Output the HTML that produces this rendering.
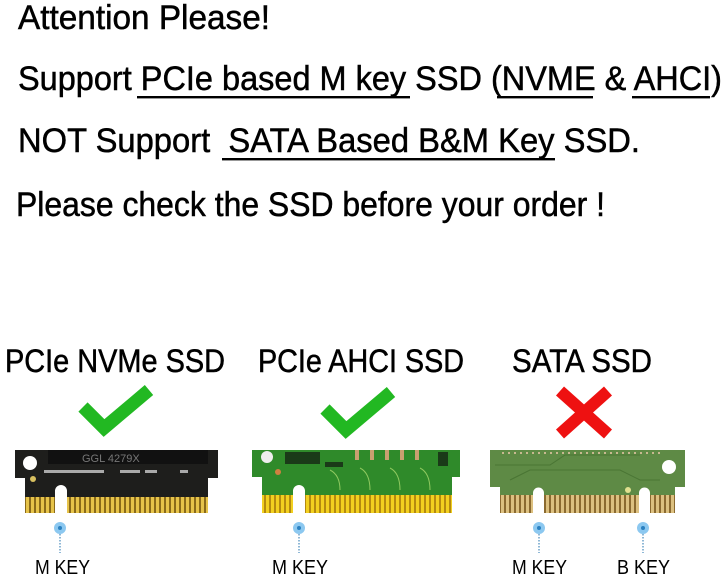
<!DOCTYPE html>
<html><head><meta charset="utf-8"><style>
html,body{margin:0;padding:0;background:#fff;width:724px;height:580px;overflow:hidden}
svg{display:block}
text{font-family:"Liberation Sans",Arial,sans-serif;fill:#000}
</style></head><body>
<svg width="724" height="580" viewBox="0 0 724 580" xmlns="http://www.w3.org/2000/svg">
<defs>
<pattern id="gold" x="0" y="0" width="5" height="20" patternUnits="userSpaceOnUse">
<rect width="5" height="20" fill="#8a6a1a"/><rect x="1" width="3" height="20" fill="#e6c34a"/>
</pattern>
<pattern id="gold2" x="0" y="0" width="5" height="20" patternUnits="userSpaceOnUse">
<rect width="5" height="20" fill="#b48a10"/><rect x="1" width="3" height="20" fill="#f2d020"/>
</pattern>
<pattern id="gold3" x="0" y="0" width="5" height="20" patternUnits="userSpaceOnUse">
<rect width="5" height="20" fill="#8b6a30"/><rect x="1" width="3" height="20" fill="#dcc080"/>
</pattern>
</defs>
<g stroke="#000" stroke-width="0.5">
<text x="18" y="29" font-size="34" textLength="252" lengthAdjust="spacingAndGlyphs">Attention Please!</text>
<text x="18" y="90" font-size="34" textLength="704" lengthAdjust="spacingAndGlyphs">Support PCIe based M key SSD (NVME &amp; AHCI)</text>
<text x="18" y="152" font-size="34" textLength="622" lengthAdjust="spacingAndGlyphs" xml:space="preserve">NOT Support  SATA Based B&amp;M Key SSD.</text>
<text x="16" y="216" font-size="34" textLength="589" lengthAdjust="spacingAndGlyphs">Please check the SSD before your order !</text>
<text x="5" y="372" font-size="32" textLength="220" lengthAdjust="spacingAndGlyphs">PCIe NVMe SSD</text>
<text x="258" y="372" font-size="32" textLength="206" lengthAdjust="spacingAndGlyphs">PCIe AHCI SSD</text>
<text x="512" y="372" font-size="32" textLength="140" lengthAdjust="spacingAndGlyphs">SATA SSD</text>
</g>
<rect x="137" y="96" width="273" height="2.4" fill="#000"/>
<rect x="497" y="96" width="96" height="2.4" fill="#000"/>
<rect x="632" y="96" width="78" height="2.4" fill="#000"/>
<rect x="222" y="158" width="333" height="2.4" fill="#000"/>
<!-- checks -->
<polyline points="83,407 104,428 149,390" fill="none" stroke="#22b822" stroke-width="13"/>
<polyline points="325,409 346,430 391,392" fill="none" stroke="#22b822" stroke-width="13"/>
<path d="M560,391 L608,434 M608,391 L560,434" stroke="#ee1111" stroke-width="12"/>
<!-- card 1 -->
<path d="M15,450 H218 V478 H208 V513 H67 V491 A6,6 0 0 0 55,491 V513 H25 V478 H15 Z" fill="#1e1e1c"/>
<rect x="25" y="497" width="30" height="16" fill="url(#gold)"/>
<rect x="67" y="497" width="141" height="16" fill="url(#gold)"/>
<circle cx="30" cy="463" r="7" fill="#fff"/>
<circle cx="33" cy="479" r="3" fill="#d8c060"/>
<rect x="48" y="450" width="160" height="14" fill="#111"/>
<text x="82" y="462" font-size="11" style="fill:#777">GGL 4279X</text>
<g fill="#aaa"><rect x="44" y="470" width="60" height="3"/><rect x="120" y="470" width="20" height="3"/><rect x="145" y="470" width="12" height="3"/><rect x="180" y="470" width="8" height="3"/></g>
<!-- card 2 -->
<path d="M252,450 H460 V477 H452 V513 H305 V491 A6,6 0 0 0 293,491 V513 H262 V477 H252 Z" fill="#2f8a2a"/>
<rect x="262" y="495" width="31" height="18" fill="url(#gold2)"/>
<rect x="305" y="495" width="147" height="18" fill="url(#gold2)"/>
<circle cx="267" cy="457" r="6" fill="#eee"/>
<circle cx="278" cy="472" r="3" fill="#d08040"/>
<g fill="#1a3a18"><rect x="285" y="452" width="35" height="12"/><rect x="325" y="462" width="18" height="5"/><rect x="438" y="452" width="10" height="14"/></g>
<g fill="#c9a070"><rect x="355" y="450" width="4" height="10"/><rect x="370" y="450" width="4" height="10"/><rect x="385" y="450" width="4" height="10"/><rect x="400" y="450" width="4" height="10"/><rect x="415" y="450" width="4" height="10"/></g>
<g fill="none" stroke="#8fc860" stroke-width="1"><path d="M330,470 q10,5 10,20 M360,468 q10,5 10,22 M390,468 q10,5 10,22 M420,468 q10,5 10,22"/></g>
<!-- card 3 -->
<path d="M490,450 H685 V487 H675 V513 H650 V493 A5.5,5.5 0 0 0 639,493 V513 H544 V493 A5.5,5.5 0 0 0 533,493 V513 H500 V487 H490 Z" fill="#5e8a45"/>
<rect x="500" y="495" width="33" height="18" fill="url(#gold3)"/>
<rect x="544" y="495" width="95" height="18" fill="url(#gold3)"/>
<rect x="650" y="495" width="25" height="18" fill="url(#gold3)"/>
<circle cx="669" cy="467" r="7" fill="#fff"/>
<circle cx="628" cy="490" r="3" fill="#e0e090"/>
<g stroke="#c8b890" stroke-width="2" stroke-dasharray="2,4"><line x1="502" y1="453" x2="660" y2="453"/></g>
<g fill="none" stroke="#4a7534" stroke-width="1"><path d="M495,465 H550 L565,455 H640 M510,480 L530,470 H620 L640,480 H660"/></g>
<!-- dots -->
<g>
<circle cx="60" cy="528" r="6" fill="#8cc8f0"/><circle cx="60" cy="528" r="2" fill="#2a80c0"/>
<line x1="60" y1="534" x2="60" y2="553" stroke="#6aa0c8" stroke-width="1.5" stroke-dasharray="1.5,1.5"/>
<circle cx="299" cy="528" r="6" fill="#8cc8f0"/><circle cx="299" cy="528" r="2" fill="#2a80c0"/>
<line x1="299" y1="534" x2="299" y2="553" stroke="#6aa0c8" stroke-width="1.5" stroke-dasharray="1.5,1.5"/>
<circle cx="539" cy="528" r="6" fill="#8cc8f0"/><circle cx="539" cy="528" r="2" fill="#2a80c0"/>
<line x1="539" y1="534" x2="539" y2="553" stroke="#6aa0c8" stroke-width="1.5" stroke-dasharray="1.5,1.5"/>
<circle cx="643" cy="528" r="6" fill="#8cc8f0"/><circle cx="643" cy="528" r="2" fill="#2a80c0"/>
<line x1="643" y1="534" x2="643" y2="553" stroke="#6aa0c8" stroke-width="1.5" stroke-dasharray="1.5,1.5"/>
</g>
<text x="35" y="574" font-size="20" textLength="55" lengthAdjust="spacingAndGlyphs">M KEY</text>
<text x="272" y="574" font-size="20" textLength="56" lengthAdjust="spacingAndGlyphs">M KEY</text>
<text x="512" y="574" font-size="20" textLength="55" lengthAdjust="spacingAndGlyphs">M KEY</text>
<text x="617" y="574" font-size="20" textLength="53" lengthAdjust="spacingAndGlyphs">B KEY</text>
</svg>
</body></html>
